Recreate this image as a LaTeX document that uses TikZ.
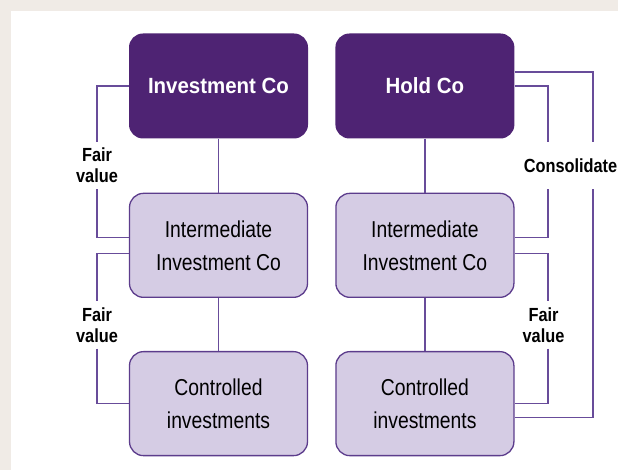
\documentclass[tikz,border=0pt]{standalone}
\usepackage{fontspec}
\setmainfont{Liberation Sans}
\newfontfamily\topsf{Liberation Sans}[FakeStretch=0.93]
\newfontfamily\boxsf{Liberation Sans}[FakeStretch=0.84]
\newfontfamily\tagsf{Liberation Sans}[FakeStretch=0.86]
\usetikzlibrary{positioning}
\definecolor{plum}{RGB}{78,35,115}
\definecolor{lilac}{RGB}{213,204,228}
\definecolor{edgec}{RGB}{92,60,140}
\definecolor{linec}{RGB}{104,76,154}
\definecolor{paper}{RGB}{240,235,230}
\tikzset{
  topco/.style ={fill=plum,rounded corners=14pt,align=center,text=white,
                 minimum width=179pt,minimum height=105pt,inner sep=0pt,
                 font=\topsf\fontsize{22}{25}\selectfont\bfseries},
  subco/.style ={fill=lilac,draw=edgec,line width=1.3pt,rounded corners=14pt,
                 align=center,minimum width=178pt,minimum height=104pt,
                 inner sep=0pt,font=\boxsf\fontsize{23}{33}\selectfont},
  tag/.style   ={align=center,minimum height=47pt,inner sep=0pt,
                 font=\tagsf\bfseries\fontsize{19}{21}\selectfont},
  ln/.style    ={draw=linec,line width=1.3pt},
}

\begin{document}
\begin{tikzpicture}[x=1pt,y=1pt,node distance=54pt and 27pt]
\fill[paper] (0,0) rectangle (618,470);
\fill[white] (11,0) rectangle (618,459);
\node[topco] (IC) at (218.5,384) {Investment Co};
\node[topco,right=of IC] (HC) {Hold Co};
\node[subco,below=of IC] (IIC) {Intermediate\\Investment Co};
\node[subco,below=of HC] (IHC) {Intermediate\\Investment Co};
\node[subco,below=53pt of IIC] (CIC) {Controlled\\investments};
\node[subco,below=53pt of IHC] (CHC) {Controlled\\investments};
% labels on the brackets
\node[tag] (fv1) at (97,304.5) {Fair\\value};
\node[tag] (fv2) at (97,145) {Fair\\value};
\node[tag] (cons) at (570.5,304.5) {Consolidate};
\node[tag] (fv3) at (543.5,145) {Fair\\value};
\coordinate (rin) at (548,0);
\coordinate (rout) at (593,0);
% ownership lines
\draw[ln] (IC) -- (IIC); \draw[ln] (IIC) -- (CIC);
\draw[ln] (HC) -- (IHC); \draw[ln] (IHC) -- (CHC);
% left brackets
\draw[ln] (IC.west) -| (fv1.north);
\draw[ln] (fv1.south) |- ([yshift=8pt]IIC.west);
\draw[ln] ([yshift=-8pt]IIC.west) -| (fv2.north);
\draw[ln] (fv2.south) |- (CIC.west);
% right brackets
\draw[ln] (HC.east) -| (rin |- cons.north);
\draw[ln] (rin |- cons.south) |- ([yshift=8pt]IHC.east);
\draw[ln] ([yshift=14pt]HC.east) -| (rout |- cons.north);
\draw[ln] (rout |- cons.south) |- ([yshift=-14pt]CHC.east);
\draw[ln] ([yshift=-8pt]IHC.east) -| (rin |- fv3.north);
\draw[ln] (rin |- fv3.south) |- (CHC.east);
\end{tikzpicture}
\end{document}
